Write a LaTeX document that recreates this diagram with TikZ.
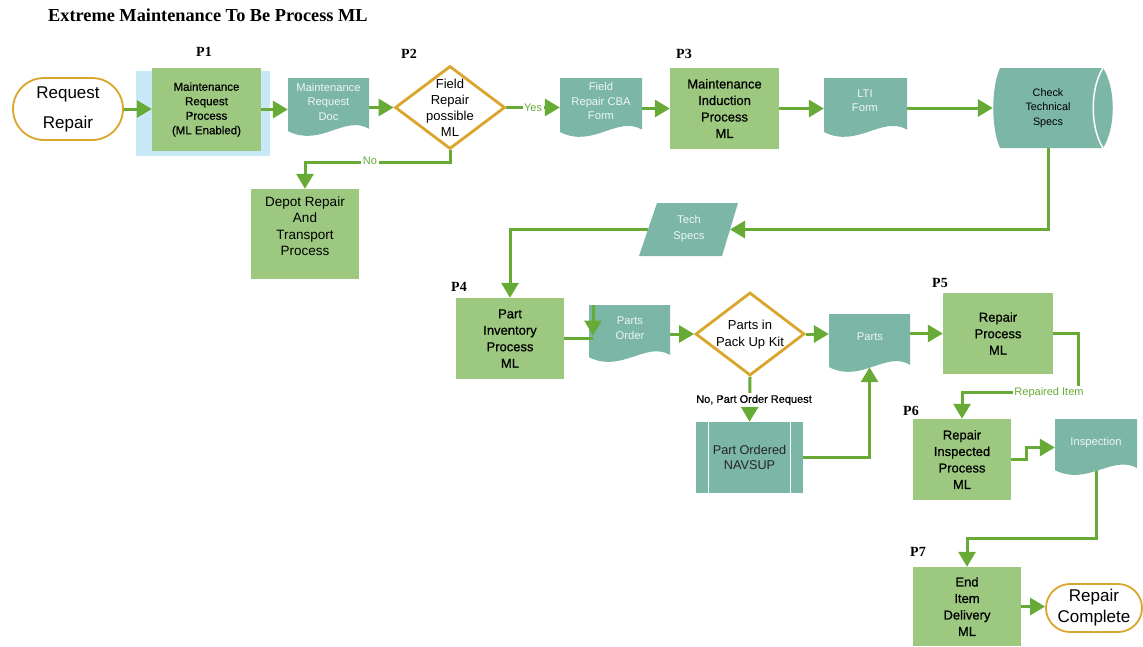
\documentclass[tikz,border=0pt]{standalone}
\usepackage{fontspec}
\setmainfont{Liberation Sans}
\newfontfamily\titleserif{Liberation Serif}
\newfontfamily\medfont{Liberation Sans}[FakeBold=0.6]
\usetikzlibrary{arrows.meta,shapes.geometric,calc,backgrounds}

\definecolor{boxgreen}{HTML}{9CC880}
\definecolor{docteal}{HTML}{7BB6A7}
\definecolor{flowgreen}{HTML}{67AB36}
\definecolor{gold}{HTML}{DAA52B}
\definecolor{glowblue}{HTML}{C8E8F7}
\definecolor{doclight}{HTML}{EEF6F3}

\tikzset{
  gbox/.style={fill=boxgreen, inner sep=0pt, align=center, text=black,
    font=\medfont\fontsize{13}{16.5}\selectfont},
  term/.style={draw=gold, line width=1.8pt, fill=white, inner sep=0pt, align=center,
    font=\fontsize{17}{21}\selectfont},
  decide/.style={diamond, draw=gold, line width=2.8pt, fill=white, inner sep=0pt},
  dtext/.style={align=center, inner sep=0pt, text=black, font=\fontsize{13}{16}\selectfont},
  doctext/.style={align=center, inner sep=0pt, text=doclight, font=\fontsize{11.2}{14.5}\selectfont},
  plabel/.style={inner sep=0pt, font=\titleserif\bfseries\fontsize{14}{16}\selectfont},
  flow/.style={draw=flowgreen, line width=3pt, -{Triangle[length=15pt,width=17pt]}},
  wire/.style={draw=flowgreen, line width=3pt},
  flowlabel/.style={fill=white, text=flowgreen, inner sep=1.5pt, font=\fontsize{11}{13}\selectfont},
}

% document symbol: flat top, wavy bottom; #1 name, (#2,#3) top left, (#4,#5) lowest right
\newcommand{\DocShape}[5]{%
  \fill[docteal] (#2,#3) -- (#4,#3) -- (#4,{#3+0.86*(#5-#3)})
    .. controls ({#4-0.3*(#4-#2)},{#3+0.62*(#5-#3)}) and ({#2+0.4*(#4-#2)},{#3+1.18*(#5-#3)})
    .. (#2,{#3+0.9*(#5-#3)}) -- cycle;
  \node[inner sep=0pt, minimum width={#4-#2}, minimum height={#5-#3}] (#1)
    at ({(#2+#4)/2},{(#3+#5)/2}) {};%
}

\begin{document}
\begin{tikzpicture}[x=1pt,y=-1pt]
\useasboundingbox (0,0) rectangle (1143,646);

% title and stage labels
\node[inner sep=0pt, anchor=west, font=\titleserif\bfseries\fontsize{18.3}{20}\selectfont]
  (title) at (48,15) {Extreme Maintenance To Be Process ML};
\node[plabel] (lp1) at (204,52) {P1};
\node[plabel] (lp2) at (409,54) {P2};
\node[plabel] (lp3) at (684,54) {P3};
\node[plabel] (lp4) at (459,287) {P4};
\node[plabel] (lp5) at (940,283) {P5};
\node[plabel] (lp6) at (911,411) {P6};
\node[plabel] (lp7) at (918,552) {P7};

% terminals
\node[term, minimum width=110, minimum height=62, rounded corners=31pt,
  font=\fontsize{17}{30}\selectfont] (req) at (68,109) {Request\\Repair};
\node[term, minimum width=96, minimum height=48, rounded corners=24pt] (rc) at (1094,608) {Repair\\Complete};

% process boxes
\node[gbox, minimum width=109, minimum height=83, font=\medfont\fontsize{11.5}{14.5}\selectfont]
  (p1) at (206.5,109.5) {Maintenance\\Request\\Process\\(ML Enabled)};
\node[gbox, minimum width=108, minimum height=90] (depot) at (305,234) {};
\node[align=center, inner sep=0pt, font=\fontsize{13.5}{16.4}\selectfont] (depott) at (305,226)
  {Depot Repair\\And\\Transport\\Process};
\node[gbox, minimum width=109, minimum height=81] (p3) at (724.5,108.5) {Maintenance\\Induction\\Process\\ML};
\node[gbox, minimum width=108, minimum height=81] (p4) at (510,338.5) {Part\\Inventory\\Process\\ML};
\node[gbox, minimum width=110, minimum height=81] (p5) at (998,333.5) {Repair\\Process\\ML};
\node[gbox, minimum width=98, minimum height=81] (p6) at (962,459.5) {Repair\\Inspected\\Process\\ML};
\node[gbox, minimum width=108, minimum height=79] (p7) at (967,606.5) {End\\Item\\Delivery\\ML};

% decisions
\node[decide, minimum width=110, minimum height=83] (p2) at (450,107.5) {};
\node[dtext] (p2t) at (450,108) {Field\\Repair\\possible\\ML};
\node[decide, minimum width=109, minimum height=83] (d2) at (750,334) {};
\node[dtext, font=\fontsize{13}{16.5}\selectfont] (d2t) at (750,334.5) {Parts in\\Pack Up Kit};

% documents
\DocShape{mrd}{288}{78}{369}{137}
\node[doctext] (mrdt) at (328.5,101.5) {Maintenance\\Request\\Doc};
\DocShape{cba}{560}{78}{642}{138}
\node[doctext] (cbat) at (601,101) {Field\\Repair CBA\\Form};
\DocShape{lti}{824}{78}{907}{138}
\node[doctext] (ltit) at (865,100.5) {LTI\\Form};
\DocShape{po}{589}{305}{670}{363}
\node[doctext] (pot) at (630,328) {Parts\\Order};
\DocShape{parts}{829}{314}{910}{373}
\node[doctext] (partst) at (870,337) {Parts};
\DocShape{insp}{1055}{419}{1137}{476}
\node[doctext] (inspt) at (1096,443) {Inspection};

% stored data (horizontal cylinder)
\fill[docteal] (1000,68) -- (1103,68) .. controls (1116,88) and (1116,128) .. (1103,148)
  -- (1000,148) .. controls (991,128) and (991,88) .. cycle;
\draw[white, line width=1.5pt] (1103,68) .. controls (1090,88) and (1090,128) .. (1103,148);
\node[inner sep=0pt, minimum width=110, minimum height=80] (chk) at (1048,108) {};
\node[align=center, inner sep=0pt, font=\fontsize{10.8}{14.5}\selectfont] (chkt) at (1048,108)
  {Check\\Technical\\Specs};

% data (parallelogram)
\fill[docteal] (657,203) -- (738,203) -- (722,256) -- (639,256) -- cycle;
\coordinate (tech-e) at (730,229.5);
\coordinate (tech-w) at (648,229.5);
\node[doctext, font=\fontsize{11.2}{16}\selectfont] (tech) at (689,229) {Tech\\Specs};

% predefined process
\node[fill=docteal, minimum width=107, minimum height=71, inner sep=0pt, align=center,
  text=black!85, font=\fontsize{12.7}{15.5}\selectfont] (nav) at (749.5,457.5) {Part Ordered\\NAVSUP};
\draw[white, line width=1.2pt] ($(nav.north west)+(13,0)$) -- ($(nav.south west)+(13,0)$);
\draw[white, line width=1.2pt] ($(nav.north east)+(-13,0)$) -- ($(nav.south east)+(-13,0)$);

% connector entering the parts order document from above
\coordinate (po-in) at (593,305);
\draw[wire] (p4.east) -- (p4.east -| po-in);
\draw[flow] (po-in) -- ($(po-in |- p4.east)+(0,-3)$);

\begin{pgfonlayer}{background}
\fill[white] (0,0) rectangle (1143,646);
% highlight behind the first process box
\fill[glowblue] (136,71) rectangle (270,156);
\draw[flow] (req.east) -- (req.east -| p1.west);
\draw[flow] (p1.east) -- (p1.east -| mrd.west);
\draw[flow] (mrd.east |- p2.west) -- (p2.west);
\draw[flow] (p2.east) -- node[flowlabel] {Yes} (p2.east -| cba.west);
\draw[flow] (cba.east |- p3.west) -- (p3.west);
\draw[flow] (p3.east) -- (p3.east -| lti.west);
\draw[flow] (lti.east |- chk.west) -- (chk.west);
\draw[flow] (p2.south) -- ++(0,12) -| (depot.north);
\node[flowlabel] (nolab) at (370,161) {No};
\draw[flow] (chk.south) |- (tech-e);
\draw[flow] (tech-w) -| (p4.north);
\draw[flow] (po.east |- d2.west) -- (d2.west);
\draw[flow] (d2.east) -- (d2.east -| parts.west);
\draw[flow] (parts.east |- p5.west) -- (p5.west);
\draw[flow] (p5.east) -- ++(25,0) |- ($(p6.north)+(0,-26)$) -- (p6.north);
\node[flowlabel] (replab) at (1049,393) {Repaired Item};
\draw[flow] (d2.south) -- (nav.north);
\node[fill=white, inner sep=1.5pt, font=\medfont\fontsize{11}{13}\selectfont] (orderlab)
  at (754,400) {No, Part Order Request};
\draw[flow] (nav.east) -| ($(parts.south)+(0,-6)$);
\draw[flow] (p6.east) -- ++(15,0) |- (insp.west);
\draw[flow] (insp.center) |- ($(p7.north)+(0,-28)$) -- (p7.north);
\draw[flow] (p7.east) -- (p7.east -| rc.west);
\end{pgfonlayer}
\end{tikzpicture}
\end{document}
